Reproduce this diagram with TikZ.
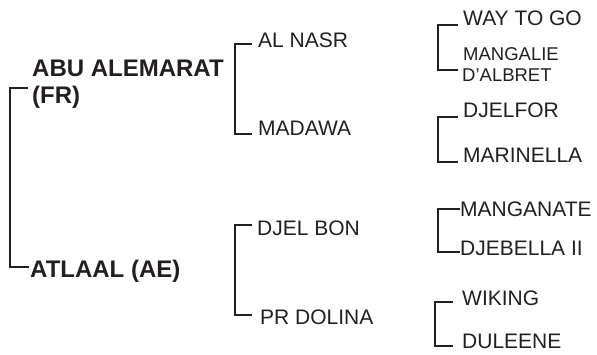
\documentclass[tikz,border=0pt]{standalone}
\usepackage{fontspec}
\setmainfont{Liberation Sans}
\definecolor{ink}{HTML}{231F20}
\begin{document}
\begin{tikzpicture}[x=1pt,y=-1pt,
  lbl/.style={inner sep=0pt,anchor=base west,text=ink},
  gone/.style={lbl,font=\fontsize{24}{27}\selectfont\bfseries},
  gtwo/.style={lbl,font=\fontsize{21}{24}\selectfont},
  gthree/.style={lbl,font=\fontsize{21}{24}\selectfont},
  gsmall/.style={lbl,font=\fontsize{18.5}{21}\selectfont},
  brk/.style={draw=ink,line width=2pt,line join=miter}]
\useasboundingbox (0,0) rectangle (597,354);

% generation 1
\node[gone] (abu) at (32,76) {ABU ALEMARAT};
\node[gone] (fr) at (32,103) {(FR)};
\node[gone] (atl) at (30,277) {ATLAAL (AE)};

% generation 2
\node[gtwo] (nasr) at (258,47) {AL NASR};
\node[gtwo] (mada) at (258,135) {MADAWA};
\node[gtwo] (djbon) at (257,235) {DJEL BON};
\node[gtwo] (dolina) at (260,324) {PR DOLINA};

% generation 3
\node[gthree] (way) at (463,25) {WAY TO GO};
\node[gsmall] (mang) at (463,60) {MANGALIE};
\node[gsmall] (albret) at (462,81) {D’ALBRET};
\node[gthree] (djelfor) at (463,117) {DJELFOR};
\node[gthree] (mari) at (463,162) {MARINELLA};
\node[gthree] (manga) at (460,216) {MANGANATE};
\node[gthree] (djeb) at (460,255) {DJEBELLA II};
\node[gthree] (wik) at (462,305) {WIKING};
\node[gthree] (dul) at (462,348) {DULEENE};

% bracket corners
\coordinate (a1) at (28,88);  \coordinate (a2) at (10,88);
\coordinate (a3) at (10,267); \coordinate (a4) at (29,267);
\coordinate (b1) at (252,44); \coordinate (b2) at (235,44);
\coordinate (b3) at (235,134); \coordinate (b4) at (252,134);
\coordinate (c1) at (252,225); \coordinate (c2) at (235,225);
\coordinate (c3) at (235,315); \coordinate (c4) at (252,315);
\coordinate (d1) at (458,25); \coordinate (d2) at (438,25);
\coordinate (d3) at (438,70); \coordinate (d4) at (458,70);
\coordinate (e1) at (458,117); \coordinate (e2) at (438,117);
\coordinate (e3) at (438,162); \coordinate (e4) at (458,162);
\coordinate (f1) at (460,209); \coordinate (f2) at (438,209);
\coordinate (f3) at (438,252); \coordinate (f4) at (460,252);
\coordinate (g1) at (453,302); \coordinate (g2) at (435,302);
\coordinate (g3) at (435,346); \coordinate (g4) at (453,346);

\draw[brk] (a1) -- (a2) -- (a3) -- (a4);
\draw[brk] (b1) -- (b2) -- (b3) -- (b4);
\draw[brk] (c1) -- (c2) -- (c3) -- (c4);
\draw[brk] (d1) -- (d2) -- (d3) -- (d4);
\draw[brk] (e1) -- (e2) -- (e3) -- (e4);
\draw[brk] (f1) -- (f2) -- (f3) -- (f4);
\draw[brk] (g1) -- (g2) -- (g3) -- (g4);
\end{tikzpicture}
\end{document}
